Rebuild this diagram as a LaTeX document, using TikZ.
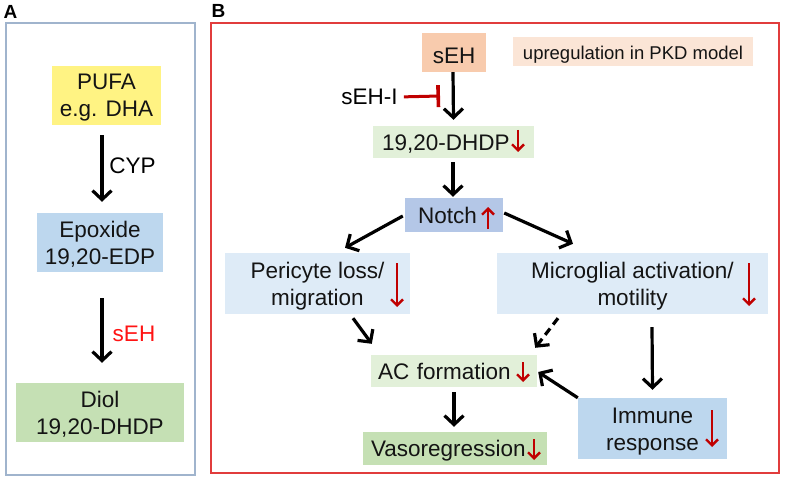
\documentclass[tikz,border=0pt]{standalone}
\usepackage{fontspec}
\setmainfont{Liberation Sans}
\usetikzlibrary{arrows.meta}
\definecolor{frameA}{RGB}{160,180,205}
\definecolor{frameB}{RGB}{225,60,60}
\definecolor{pufaY}{RGB}{255,243,131}
\definecolor{midBlue}{RGB}{189,215,238}
\definecolor{notchBlue}{RGB}{180,199,231}
\definecolor{paleBlue}{RGB}{222,235,247}
\definecolor{midGreen}{RGB}{197,224,180}
\definecolor{paleGreen}{RGB}{226,240,217}
\definecolor{sehOrange}{RGB}{248,203,173}
\definecolor{palePeach}{RGB}{251,229,214}
\definecolor{indRed}{RGB}{192,0,0}
\definecolor{labRed}{RGB}{255,20,20}
\definecolor{txt}{RGB}{20,20,20}
\newcommand{\mainfs}{\fontsize{22.5}{27}\selectfont}
\newcommand{\smallfs}{\fontsize{18.5}{22}\selectfont}
\newcommand{\panelfs}{\fontsize{19}{22}\selectfont\bfseries}
\begin{document}
\begin{tikzpicture}[x=1pt,y=-1pt,
  box/.style={rectangle, inner sep=0pt, align=center, font=\mainfs, text=txt},
  onel/.style={text height=16pt, text depth=0pt},
  twol/.style={text height=43pt, text depth=0pt},
  arr/.style={draw=black, line width=3.2pt, -{Straight Barb[length=9pt,width=19pt]}},
  dasharr/.style={arr, dash pattern=on 8pt off 5pt},
  ind/.style={draw=indRed, line width=2.4pt, -{Straight Barb[length=6pt,width=12pt]}},
  inh/.style={draw=indRed, line width=3pt, -{Bar[width=22pt,line width=3.6pt]}},
  lab/.style={inner sep=0pt, font=\mainfs, text height=16pt, text depth=0pt}
]
\useasboundingbox (0,0) rectangle (786,481);

% ---------- Panel A ----------
\node[inner sep=0pt, font=\panelfs] (labA) at (10.5,12) {A};
\draw[frameA, line width=1.5pt] (6,23) rectangle (195,475);

\node[box, twol, fill=pufaY, minimum width=109pt, minimum height=59pt] (pufa) at (106.5,95.5) {PUFA\\e.g. DHA};
\node[box, twol, fill=midBlue, minimum width=126pt, minimum height=59pt] (epox) at (100,242.5) {Epoxide\\19,20-EDP};
\node[box, twol, fill=midGreen, minimum width=168pt, minimum height=59pt] (diol) at (100,412.5) {Diol\\19,20-DHDP};

\draw[arr] ([xshift=-4.5pt,yshift=-10pt]pufa.south) -- ([xshift=2pt,yshift=11pt]epox.north);
\draw[arr] ([xshift=2pt,yshift=-26pt]epox.south) -- ([xshift=2pt,yshift=20pt]diol.north);
\node[lab] (cyp) at (132.5,166) {CYP};
\node[lab, text=labRed] (sehA) at (134,333) {sEH};

% ---------- Panel B ----------
\node[inner sep=0pt, font=\panelfs] (labB) at (218.5,11) {B};
\draw[frameB, line width=1.8pt] (211,23) rectangle (779,473);

\node[box, text height=22pt, text depth=0pt, fill=sehOrange, minimum width=64pt, minimum height=39pt] (seh) at (454,52.5) {sEH};
\node[box, font=\smallfs, text height=17pt, text depth=0pt, fill=palePeach, minimum width=240pt, minimum height=29pt] (upreg) at (633,51.5) {upregulation in PKD model};
\node[lab] (sehi) at (369.5,97) {sEH-I};
\coordinate (inhend) at (440,96);

\node[box, onel, fill=paleGreen, align=left, inner xsep=9pt, text width=143pt, minimum height=32pt] (dhdp) at (453.5,142) {19,20-DHDP};
\node[box, onel, fill=notchBlue, align=left, inner xsep=13pt, text width=72pt, minimum height=34pt] (notch) at (454,215) {Notch};
\node[box, twol, fill=paleBlue, minimum width=185pt, minimum height=61pt] (peri) at (317.5,283.5) {Pericyte loss/\\migration};
\node[box, twol, fill=paleBlue, minimum width=271pt, minimum height=61pt] (micro) at (632.5,283.5) {Microglial activation/\\motility};
\node[box, onel, fill=paleGreen, align=left, inner xsep=7pt, text width=152pt, minimum height=32pt] (ac) at (454,371) {AC formation};
\node[box, onel, fill=midGreen, align=left, inner xsep=8pt, text width=168pt, minimum height=33pt] (vaso) at (455,448.5) {Vasoregression};
\node[box, twol, fill=midBlue, minimum width=149pt, minimum height=61pt] (immune) at (652.5,428.5) {Immune\\response};

% connectors
\draw[arr] ([xshift=-1pt]seh.south) -- ([yshift=6pt]dhdp.north);
\draw[inh, shorten <=6pt] (sehi.east) -- (inhend);
\draw[arr] ([xshift=-0.5pt,yshift=-4pt]dhdp.south) -- ([xshift=-1pt,yshift=1pt]notch.north);
\draw[arr] ([xshift=-2pt,yshift=-1pt]notch.west) -- ([xshift=27.5pt,yshift=5pt]peri.north);
\draw[arr] ([xshift=1pt,yshift=2pt]notch.east) -- ([xshift=-59.5pt,yshift=9pt]micro.north);
\draw[arr] ([xshift=35.5pt,yshift=-4pt]peri.south) -- ([xshift=1pt,yshift=11pt]ac.north west);
\draw[dasharr] ([xshift=-74.5pt,yshift=-4pt]micro.south) -- ([xshift=-2pt,yshift=7pt]ac.north east);
\draw[arr] ([xshift=19.5pt,yshift=-13pt]micro.south) -- ([yshift=8pt]immune.north);
\draw[arr] (immune.north west) -- ([xshift=1pt,yshift=-1pt]ac.east);
\draw[arr] ([yshift=-5pt]ac.south) -- ([yshift=5pt]ac.south |- vaso.north);

% red indicator arrows
\draw[ind] (518,130) -- (518,152);
\draw[ind] (488,229) -- (488,207);
\draw[ind] (397,263) -- (397,307);
\draw[ind] (749,263) -- (749,306);
\draw[ind] (523,362) -- (523,382);
\draw[ind] (534,439) -- (534,460);
\draw[ind] (712,410) -- (712,447);
\end{tikzpicture}
\end{document}
